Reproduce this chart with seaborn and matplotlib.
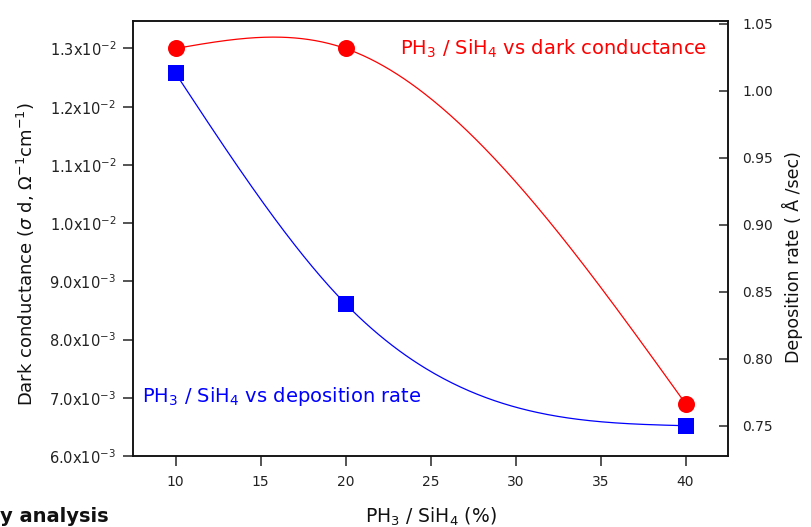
import numpy as np
import matplotlib
matplotlib.use('Agg')
import matplotlib.pyplot as plt
import seaborn as sns

# Data
ratio = [10, 20, 40]                          # PH3 / SiH4 (%)
dark_conductance = [0.0130, 0.0130, 0.0069]    # left axis
deposition_rate = [1.013, 0.841, 0.750]        # right axis (A/sec)

cond_ticks = [0.006, 0.007, 0.008, 0.009, 0.010, 0.011, 0.012, 0.013]
cond_tick_labels = [r'$6.0\mathrm{x}10^{-3}$', r'$7.0\mathrm{x}10^{-3}$', r'$8.0\mathrm{x}10^{-3}$',
                    r'$9.0\mathrm{x}10^{-3}$', r'$1.0\mathrm{x}10^{-2}$', r'$1.1\mathrm{x}10^{-2}$',
                    r'$1.2\mathrm{x}10^{-2}$', r'$1.3\mathrm{x}10^{-2}$']
rate_ticks = [0.75, 0.80, 0.85, 0.90, 0.95, 1.00, 1.05]
rate_tick_labels = ['0.75', '0.80', '0.85', '0.90', '0.95', '1.00', '1.05']
x_ticks = [10, 15, 20, 25, 30, 35, 40]


def natural_spline(x, y, n=300):
    # natural cubic spline through the data points (smooth connecting line)
    x = np.asarray(x, float)
    y = np.asarray(y, float)
    h = np.diff(x)
    k = len(x)
    A = np.zeros((k, k))
    r = np.zeros(k)
    A[0, 0] = A[-1, -1] = 1
    for i in range(1, k - 1):
        A[i, i - 1] = h[i - 1]
        A[i, i] = 2 * (h[i - 1] + h[i])
        A[i, i + 1] = h[i]
        r[i] = 6 * ((y[i + 1] - y[i]) / h[i] - (y[i] - y[i - 1]) / h[i - 1])
    M = np.linalg.solve(A, r)
    xs = np.linspace(x[0], x[-1], n)
    j = np.clip(np.searchsorted(x, xs) - 1, 0, k - 2)
    x0, x1, hj = x[j], x[j + 1], h[j]
    ys = ((M[j] * (x1 - xs) ** 3 + M[j + 1] * (xs - x0) ** 3) / (6 * hj)
          + (y[j] / hj - M[j] * hj / 6) * (x1 - xs)
          + (y[j + 1] / hj - M[j + 1] * hj / 6) * (xs - x0))
    return xs, ys


sns.set_style('ticks')
plt.rcParams['font.family'] = ['DejaVu Sans']
plt.rcParams['mathtext.fontset'] = 'dejavusans'

fig, ax = plt.subplots(figsize=(8.12, 5.27), dpi=100)
fig.subplots_adjust(left=0.1638, right=0.8966, top=0.961, bottom=0.1347)
ax2 = ax.twinx()

red = '#ff0000'
blue = '#0000ff'

# dark conductance (left axis)
xs, ys = natural_spline(ratio, dark_conductance)
sns.lineplot(x=xs, y=ys, ax=ax, color=red, linewidth=0.9, sort=False)
sns.scatterplot(x=ratio, y=dark_conductance, ax=ax, color=red, marker='o', s=150,
                linewidth=0, zorder=5)

# deposition rate (right axis)
xs, ys = natural_spline(ratio, deposition_rate)
sns.lineplot(x=xs, y=ys, ax=ax2, color=blue, linewidth=0.9, sort=False)
sns.scatterplot(x=ratio, y=deposition_rate, ax=ax2, color=blue, marker='s', s=135,
                linewidth=0, zorder=5)

ax.set_xlim(7.5, 42.5)
ax.set_ylim(0.006, 0.01348)
ax2.set_ylim(0.7274, 1.0523)

ax.set_xticks(x_ticks)
ax.set_yticks(cond_ticks)
ax.set_yticklabels(cond_tick_labels)
ax2.set_yticks(rate_ticks)
ax2.set_yticklabels(rate_tick_labels)

tick_col = '#222222'
ax.tick_params(axis='y', direction='out', length=7, width=1.1, labelsize=10.5, pad=5,
               labelcolor=tick_col)
ax.tick_params(axis='x', direction='out', length=7.5, width=1.1, labelsize=10, pad=6,
               labelcolor=tick_col)
ax2.tick_params(axis='y', direction='in', length=6.5, width=1.1, labelsize=10, pad=10.5,
                labelcolor=tick_col)

for a in (ax, ax2):
    for sp in a.spines.values():
        sp.set_visible(True)
        sp.set_linewidth(1.1)
        sp.set_color('#111111')

ax.set_xlabel(r'PH$_3$ / SiH$_4$ (%)', fontsize=13.5, color='#111111', va='top')
ax.xaxis.set_label_coords(0.5, -0.115)
ax.set_ylabel(r'Dark conductance ($\sigma$ d, $\Omega^{-1}$cm$^{-1}$)', fontsize=13,
              color='#111111')
ax.yaxis.set_label_coords(-0.161, 0.463)
ax2.set_ylabel('Deposition rate ( Å /sec)', fontsize=12.5, color='#111111')
ax2.yaxis.set_label_coords(1.0908, 0.457)

ax.text(0.4487, 0.9224, r'PH$_3$ / SiH$_4$ vs dark conductance', transform=ax.transAxes,
        color=red, fontsize=14, va='baseline', ha='left')
ax.text(0.0146, 0.1247, r'PH$_3$ / SiH$_4$ vs deposition rate', transform=ax.transAxes,
        color=blue, fontsize=14, va='baseline', ha='left')

# cropped heading from the surrounding document
fig.text(0.0, 0.001, 'y analysis', fontsize=14, fontweight='bold', color='#111111',
         va='bottom', ha='left')

fig.savefig('out.png', dpi=100)
